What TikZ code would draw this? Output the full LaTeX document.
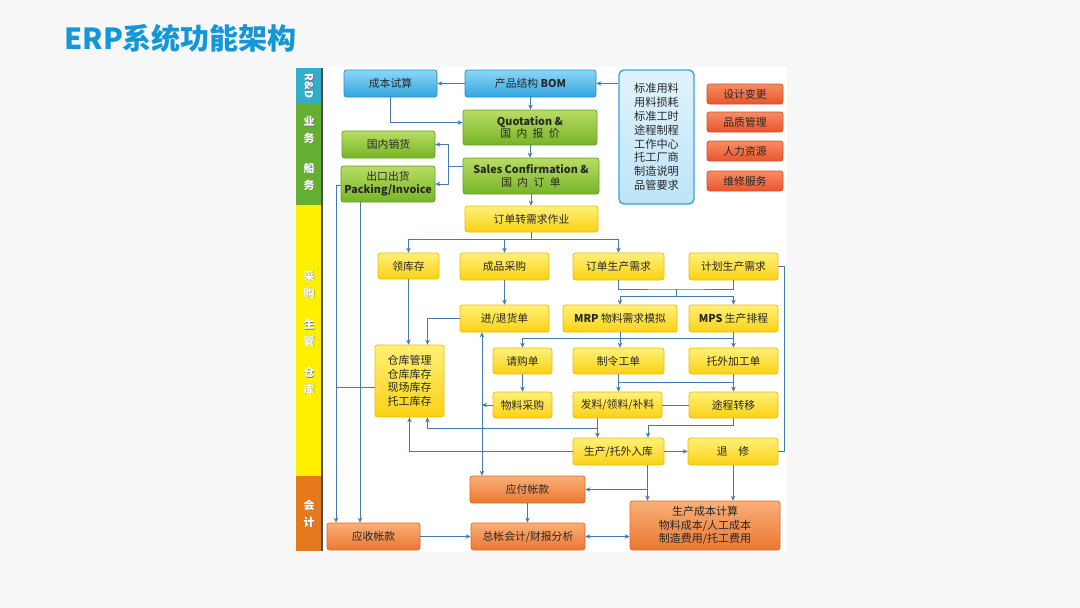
\documentclass[tikz,border=0pt]{standalone}
\usepackage{fontspec}
\setmainfont{Noto Sans CJK SC}
\usetikzlibrary{arrows.meta}
\definecolor{slidebg}{RGB}{247,247,247}
\definecolor{titleblue}{RGB}{20,150,215}
\definecolor{lineblue}{RGB}{70,120,175}
\definecolor{txt}{RGB}{40,40,40}
\definecolor{bluelt}{RGB}{140,215,245}
\definecolor{bluemd}{RGB}{50,165,225}
\definecolor{bluedk}{RGB}{40,140,200}
\definecolor{listlt}{RGB}{225,243,252}
\definecolor{listmd}{RGB}{190,228,248}
\definecolor{greenlt}{RGB}{185,220,100}
\definecolor{greenmd}{RGB}{120,180,40}
\definecolor{greendk}{RGB}{100,160,40}
\definecolor{yellowlt}{RGB}{255,240,120}
\definecolor{yellowmd}{RGB}{250,210,20}
\definecolor{yellowdk}{RGB}{235,190,0}
\definecolor{orangelt}{RGB}{250,175,120}
\definecolor{orangemd}{RGB}{235,120,50}
\definecolor{orangedk}{RGB}{220,105,40}
\definecolor{redlt}{RGB}{248,140,100}
\definecolor{redmd}{RGB}{232,85,45}
\definecolor{reddk}{RGB}{210,80,40}
\definecolor{bandteal}{RGB}{50,175,200}
\definecolor{bandgreen}{RGB}{100,175,50}
\definecolor{bandyellow}{RGB}{255,240,0}
\definecolor{bandorange}{RGB}{230,120,30}
\newcommand\nf{\fontsize{10.8}{12.6}\selectfont}
\newcommand\lf{\fontsize{11.2}{13.8}\selectfont}
\newcommand\gapsp{\enspace}
\tikzset{
  base/.style={draw, rounded corners=2.5pt, line width=0.7pt, align=center, inner sep=1pt, font=\nf, text=txt},
  bluebox/.style={base, draw=bluedk, top color=bluelt, bottom color=bluemd},
  listbox/.style={base, draw=bluemd, line width=1.4pt, rounded corners=5pt, top color=listlt, bottom color=listmd, font=\lf},
  greenbox/.style={base, draw=greendk, top color=greenlt, bottom color=greenmd},
  yellowbox/.style={base, draw=yellowdk, top color=yellowlt, bottom color=yellowmd},
  orangebox/.style={base, draw=orangedk, top color=orangelt, bottom color=orangemd},
  redbox/.style={base, draw=reddk, top color=redlt, bottom color=redmd},
  conn/.style={draw=lineblue, line width=0.8pt},
  arr/.style={conn, -{Stealth[length=5pt,width=4.5pt]}},
  arrtwo/.style={conn, {Stealth[length=5pt,width=4.5pt]}-{Stealth[length=5pt,width=4.5pt]}},
  bandtxt/.style={text=white, font=\fontsize{11}{12}\selectfont\bfseries, inner sep=0pt},
  bandshadow/.style={text=black!55, font=\fontsize{11}{12}\selectfont\bfseries, inner sep=0pt},
}
\newcommand\bandlabel[3]{%
  \node[bandshadow] at (#1+0.7,#2+0.7) {#3};
  \node[bandtxt] (#1-#2) at (#1,#2) {#3};}
\begin{document}
\begin{tikzpicture}[x=1pt,y=-1pt]
\useasboundingbox (0,0) rectangle (1080,608);
\fill[slidebg] (0,0) rectangle (1080,608);
% title
\node[anchor=base west, inner sep=0pt, text=titleblue, font=\fontsize{29}{32}\selectfont\bfseries] (title) at (64,49) {ERP系统功能架构};
% diagram area
\fill[white] (295,67) rectangle (787,552);
% left band
\fill[bandteal] (296,68) rectangle (322,103);
\fill[bandgreen] (296,103) rectangle (322,205);
\fill[bandyellow] (296,205) rectangle (322,476);
\fill[bandorange] (296,476) rectangle (322,551);
\draw[black!70, line width=1.5pt] (322,68) -- (322,551);
\node[bandshadow, rotate=-90] at (309.7,86.7) {R\&D};
\node[bandtxt, rotate=-90] (rd) at (309,86) {R\&D};
\bandlabel{309}{121}{业}
\bandlabel{309}{138}{务}
\bandlabel{309}{168}{船}
\bandlabel{309}{185}{务}
\bandlabel{309}{276}{采}
\bandlabel{309}{293}{购}
\bandlabel{309}{324}{生}
\bandlabel{309}{341}{管}
\bandlabel{309}{372}{仓}
\bandlabel{309}{389}{库}
\bandlabel{309}{505}{会}
\bandlabel{309}{522}{计}

% nodes
\node[bluebox, minimum width=93pt, minimum height=27pt] (cbss) at (390.5,83.5) {成本试算};
\node[bluebox, minimum width=131pt, minimum height=27pt] (bom) at (530.5,83.5) {产品结构 \textbf{BOM}};
\node[greenbox, minimum width=134pt, minimum height=35pt] (quot) at (530,127.5) {\textbf{Quotation \&}\\国\gapsp 内\gapsp 报\gapsp 价};
\node[greenbox, minimum width=93pt, minimum height=27pt] (gnxh) at (388.5,144.5) {国内销货};
\node[greenbox, minimum width=94pt, minimum height=36pt] (ckch) at (388,184) {出口出货\\\textbf{Packing/Invoice}};
\node[greenbox, minimum width=136pt, minimum height=36pt] (sales) at (531,176) {\textbf{Sales Confirmation \&}\\国\gapsp 内\gapsp 订\gapsp 单};
\node[listbox, minimum width=75pt, minimum height=134pt] (list) at (656.5,137) {标准用料\\用料损耗\\标准工时\\途程制程\\工作中心\\托工厂商\\制造说明\\品管要求};
\node[redbox, minimum width=76pt, minimum height=20pt] (r1) at (745,94) {设计变更};
\node[redbox, minimum width=76pt, minimum height=20pt] (r2) at (745,122) {品质管理};
\node[redbox, minimum width=76pt, minimum height=20pt] (r3) at (745,151) {人力资源};
\node[redbox, minimum width=76pt, minimum height=20pt] (r4) at (745,181) {维修服务};
\node[yellowbox, minimum width=133pt, minimum height=26pt] (ddzx) at (531.5,219) {订单转需求作业};
\node[yellowbox, minimum width=61pt, minimum height=26pt] (lkc) at (408.5,266) {领库存};
\node[yellowbox, minimum width=89pt, minimum height=27pt] (cpcg) at (504.5,266.5) {成品采购};
\node[yellowbox, minimum width=91pt, minimum height=27pt] (ddsc) at (618.5,266.5) {订单生产需求};
\node[yellowbox, minimum width=89pt, minimum height=27pt] (jhsc) at (733.5,266.5) {计划生产需求};
\node[yellowbox, minimum width=89pt, minimum height=27pt] (jth) at (504.5,318.5) {进/退货单};
\node[yellowbox, minimum width=114pt, minimum height=27pt] (mrp) at (620,318.5) {\textbf{MRP} 物料需求模拟};
\node[yellowbox, minimum width=89pt, minimum height=27pt] (mps) at (733.5,318.5) {\textbf{MPS} 生产排程};
\node[yellowbox, minimum width=69pt, minimum height=72pt, font=\fontsize{11}{13.5}\selectfont] (ckgl) at (409.5,381) {仓库管理\\仓库库存\\现场库存\\托工库存};
\node[yellowbox, minimum width=59pt, minimum height=26pt] (qgd) at (522.5,361) {请购单};
\node[yellowbox, minimum width=91pt, minimum height=26pt] (zlgd) at (618.5,361) {制令工单};
\node[yellowbox, minimum width=89pt, minimum height=26pt] (twjg) at (733.5,361) {托外加工单};
\node[yellowbox, minimum width=59pt, minimum height=26pt] (wlcg) at (522.5,405) {物料采购};
\node[yellowbox, minimum width=89pt, minimum height=26pt] (fl) at (617.5,405) {发料/领料/补料};
\node[yellowbox, minimum width=89pt, minimum height=26pt] (tczy) at (733.5,405) {途程转移};
\node[yellowbox, minimum width=91pt, minimum height=27pt] (scrk) at (618.5,451.5) {生产/托外入库};
\node[yellowbox, minimum width=90pt, minimum height=27pt] (tx) at (733,451.5) {退\quad 修};
\node[orangebox, minimum width=115pt, minimum height=27pt] (yfzk) at (527.5,489.5) {应付帐款};
\node[orangebox, minimum width=93pt, minimum height=27pt] (yszk) at (373.5,536.5) {应收帐款};
\node[orangebox, minimum width=114pt, minimum height=27pt] (zz) at (528,536.5) {总帐会计/财报分析};
\node[orangebox, minimum width=150pt, minimum height=49pt, font=\fontsize{11}{13.5}\selectfont] (sccb) at (705,525.5) {生产成本计算\\物料成本/人工成本\\制造费用/托工费用};

% helper coordinates
\coordinate (t336) at (336,0);
\coordinate (t360) at (360,0);
\coordinate (v482) at (482,0);

% connectors
\draw[arr] (list.west |- bom.east) -- (bom.east);
\draw[arr] (bom.west) -- (cbss.east);
\draw[arr] (cbss.south) |- ([yshift=5pt]quot.west);
\draw[arr] (bom.south) -- (bom.south |- quot.north);
\draw[arr] (quot.south) -- (quot.south |- sales.north);
\coordinate (j1) at (448,166);
\draw[conn] (sales.west |- j1) -- (j1);
\draw[arr] (j1) |- (gnxh.east);
\draw[arr] (j1) |- (ckch.east);
\draw[arr] (sales.south) -- (sales.south |- ddzx.north);
\draw[arr] ([yshift=-1pt]ckch.west) -| (yszk.north -| t336);
\draw[arr] (ckch.south -| t360) -- (yszk.north -| t360);
\draw[conn] ([yshift=-6pt]ckgl.west) -- ([yshift=-6pt]ckgl.west -| t336);

\draw[conn] (ddzx.south) -- ++(0,7) coordinate (j2);
\draw[arr] (j2) -| (lkc.north);
\draw[arr] (j2) -| (ddsc.north);
\draw[arr] (j2 -| cpcg.north) -- (cpcg.north);
\draw[arr] (lkc.south) -- (lkc.south |- ckgl.north);
\draw[arr] (jth.west) -| ([xshift=18pt]ckgl.north);
\draw[arr] (cpcg.south) -- (jth.north);

\coordinate (m1) at (676,289);
\coordinate (m2) at (676,296);
\draw[conn] (ddsc.south) |- (m1) -| (jhsc.south);
\draw[conn] (m1) -- (m2);
\draw[arr] (m2) -| (mrp.north);
\draw[arr] (m2) -| (mps.north);
\draw[conn] (jhsc.east) -- ++(6,0) |- (tx.east);

\draw[conn] (mrp.south) -- ++(0,6) coordinate (b1);
\draw[conn] (mps.south) -- ++(0,6) coordinate (b2);
\draw[conn] (b1) -- (b2);
\draw[arr] (b1) -| (qgd.north);
\draw[arr] (b1) -- (b1 |- zlgd.north);
\draw[arr] (b2) -- (twjg.north);
\draw[arr] (qgd.south) -- (wlcg.north);

\draw[conn] (zlgd.south) -- ++(0,8) coordinate (c1);
\draw[conn] (twjg.south) -- ++(0,8) coordinate (c2);
\draw[conn] (c1) -- (c2);
\draw[arr] (c1) -- (c1 |- fl.north);
\draw[arr] (c2) -- (tczy.north);
\draw[conn] (fl.east) -- (tczy.west);

\draw[arr] (wlcg.west) -- (wlcg.west -| v482);
\draw[arr] (wlcg.west -| v482) -- (jth.south -| v482);
\draw[arr] (wlcg.west -| v482) -- (yfzk.north -| v482);

\coordinate (d0) at ([xshift=-20pt]fl.south);
\coordinate (d1) at ([xshift=-20pt,yshift=-10pt]fl.south);
\draw[arr] (d0) -- (d0 |- scrk.north);
\draw[arr] (d1) -| ([xshift=18pt]ckgl.south);
\draw[arr] (tczy.south) -- ++(0,7) -| ([xshift=29.5pt]scrk.north);
\draw[arr] (scrk.west) -| (ckgl.south);
\draw[arr] (scrk.east) -- (tx.west);
\coordinate (e0) at ([xshift=29pt]scrk.south);
\draw[arr] (e0) -- (e0 |- sccb.north);
\draw[arr] (e0 |- yfzk.east) -- (yfzk.east);
\draw[arr] (tx.south) -- (tx.south |- sccb.north);
\draw[arr] (yfzk.south) -- (yfzk.south |- zz.north);
\draw[arr] (yszk.east) -- (zz.west);
\draw[arrtwo] (sccb.west |- zz.east) -- (zz.east);
\end{tikzpicture}
\end{document}
